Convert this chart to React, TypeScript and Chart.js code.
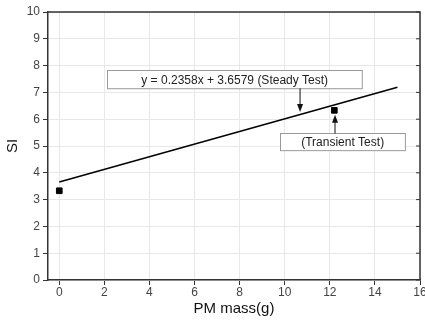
import React, { useEffect, useRef } from "react";
import { Chart, registerables } from "chart.js";

Chart.register(...registerables);

const pointsX = [0, 12.2];
const pointsY = [3.33, 6.33];
const slope = 0.2358;
const intercept = 3.6579;
const fitX = [0, 15];
const eqLabel = "y = 0.2358x + 3.6579 (Steady Test)";
const transientLabel = "(Transient Test)";
const xTitle = "PM mass(g)";
const yTitle = "SI";

const annoPlugin = {
  id: "anno",
  afterDraw(chart: any) {
    const { ctx, chartArea: a, scales } = chart;
    const xs = scales.x, ys = scales.y;
    ctx.save();
    ctx.strokeStyle = "#333";
    ctx.lineWidth = 1.5;
    ctx.beginPath();
    ctx.moveTo(a.left, a.top);
    ctx.lineTo(a.right, a.top);
    ctx.lineTo(a.right, a.bottom);
    ctx.stroke();
    ctx.lineWidth = 1;
    for (let v = 0; v <= 10; v++) {
      const y = ys.getPixelForValue(v);
      ctx.beginPath();
      ctx.moveTo(a.right, y);
      ctx.lineTo(a.right - 4, y);
      ctx.stroke();
    }
    const box = (x0: number, x1: number, y0: number, y1: number, text: string) => {
      const px0 = xs.getPixelForValue(x0), px1 = xs.getPixelForValue(x1);
      const py0 = ys.getPixelForValue(y0), py1 = ys.getPixelForValue(y1);
      ctx.fillStyle = "#fff";
      ctx.fillRect(px0, py0, px1 - px0, py1 - py0);
      ctx.strokeStyle = "#999";
      ctx.lineWidth = 1;
      ctx.strokeRect(Math.round(px0) + 0.5, Math.round(py0) + 0.5, px1 - px0, py1 - py0);
      ctx.fillStyle = "#222";
      ctx.font = "12px 'Liberation Sans', Arial, sans-serif";
      ctx.textAlign = "center";
      ctx.textBaseline = "middle";
      ctx.fillText(text, (px0 + px1) / 2, (py0 + py1) / 2 + 1);
    };
    const arrow = (xv: number, yFrom: number, yTo: number) => {
      const px = xs.getPixelForValue(xv);
      const p0 = ys.getPixelForValue(yFrom), p1 = ys.getPixelForValue(yTo);
      const dir = p1 > p0 ? 1 : -1;
      ctx.strokeStyle = "#111";
      ctx.fillStyle = "#111";
      ctx.lineWidth = 1;
      ctx.beginPath();
      ctx.moveTo(px, p0);
      ctx.lineTo(px, p1 - dir * 6);
      ctx.stroke();
      ctx.beginPath();
      ctx.moveTo(px, p1);
      ctx.lineTo(px - 3, p1 - dir * 8);
      ctx.lineTo(px + 3, p1 - dir * 8);
      ctx.closePath();
      ctx.fill();
    };
    box(2.13, 13.43, 7.83, 7.15, eqLabel);
    arrow(10.68, 7.15, 6.27);
    box(9.8, 15.34, 5.47, 4.83, transientLabel);
    arrow(12.23, 5.47, 6.17);
    ctx.restore();
  },
};

export default function App() {
  const ref = useRef<HTMLCanvasElement>(null);
  useEffect(() => {
    document.body.style.margin = "0";
    const fitData = fitX.map((x) => ({ x, y: slope * x + intercept }));
    const font = { family: "'Liberation Sans', Arial, sans-serif", size: 12 };
    const chart = new Chart(ref.current!, {
      type: "scatter",
      data: {
        datasets: [
          {
            type: "line",
            data: fitData,
            borderColor: "#000",
            borderWidth: 1.5,
            pointRadius: 0,
            fill: false,
          } as any,
          {
            data: pointsX.map((x, i) => ({ x, y: pointsY[i] })),
            backgroundColor: "#000",
            borderColor: "#000",
            pointStyle: "rect",
            pointRadius: 4,
          },
        ],
      },
      options: {
        animation: false,
        responsive: false,
        layout: { padding: { top: 12, right: 5, left: 0, bottom: 2 } },
        plugins: { legend: { display: false }, tooltip: { enabled: false } },
        scales: {
          x: {
            type: "linear",
            min: -0.5,
            max: 16,
            ticks: { stepSize: 2, includeBounds: false, color: "#444", font, padding: 0 },
            grid: { color: "#e8e8e8", tickColor: "#333", tickLength: 5 },
            border: { color: "#333", width: 1.5 },
            title: { display: true, text: xTitle, color: "#111", font: { family: font.family, size: 15 }, padding: { top: 1, bottom: 0 } },
            afterFit: (s: any) => { s.height = 38; s.paddingRight = 0; s.paddingLeft = 0; },
          },
          y: {
            min: 0,
            max: 10,
            ticks: { stepSize: 1, color: "#444", font, padding: 3 },
            grid: { color: "#e8e8e8", tickColor: "#333", tickLength: 5 },
            border: { color: "#333", width: 1.5 },
            title: { display: true, text: yTitle, color: "#111", font: { family: font.family, size: 15 }, padding: { bottom: 4 } },
            afterFit: (s: any) => { s.width = 48; s.paddingTop = 0; s.paddingBottom = 0; },
          },
        },
      },
      plugins: [annoPlugin],
    } as any);
    return () => chart.destroy();
  }, []);
  return <canvas ref={ref} width={425} height={320} style={{ display: "block" }} />;
}
